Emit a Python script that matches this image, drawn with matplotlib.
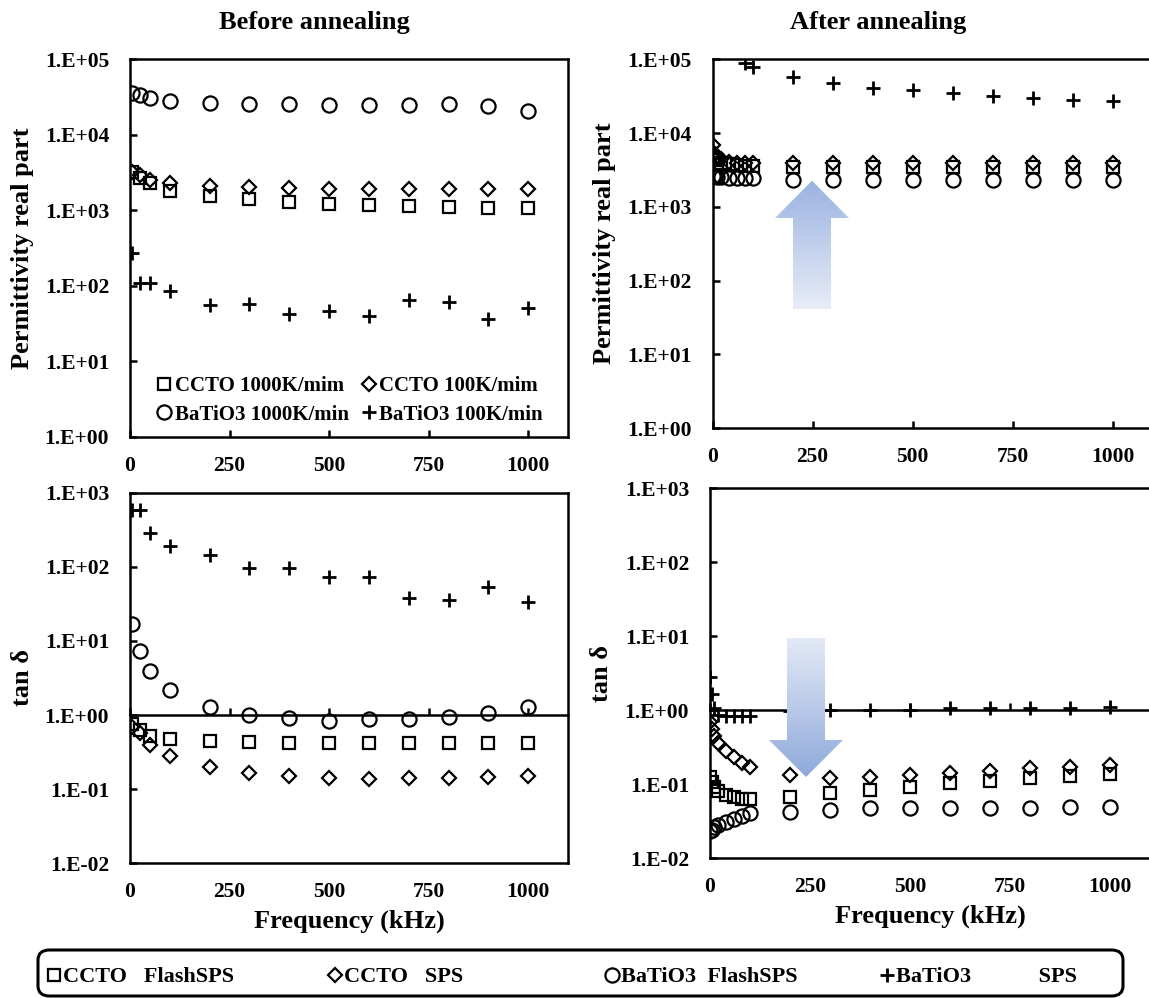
import numpy as np
import matplotlib
matplotlib.use("Agg")
import matplotlib.pyplot as plt
from matplotlib.lines import Line2D
from matplotlib.patches import Polygon, FancyBboxPatch
from matplotlib.colors import LinearSegmentedColormap
from matplotlib.ticker import FixedLocator, FuncFormatter, NullLocator

plt.rcParams["font.family"] = ["Liberation Serif", "DejaVu Serif"]
plt.rcParams["font.weight"] = "bold"

# ---- data ----
freq_before = [5, 25, 50, 100, 200, 300, 400, 500, 600, 700, 800, 900, 1000]
freq_after = [1, 5, 10, 20, 40, 60, 80, 100, 200, 300, 400, 500, 600, 700, 800, 900, 1000]

eps_before_ccto_flash = [3200, 2700, 2300, 1800, 1550, 1420, 1280, 1220, 1190, 1160, 1120, 1090, 1060]
eps_before_ccto_sps = [3250, 2930, 2520, 2280, 2080, 2010, 2000, 1930, 1920, 1920, 1920, 1920, 1900]
eps_before_bto_flash = [36100, 33600, 30400, 28300, 26700, 25600, 25300, 24600, 24600, 24600, 25300, 24300, 20900]
eps_before_bto_sps = [270, 110, 110, 85, 56, 57, 43, 47, 40.5, 65, 61, 36.5, 51]

tan_before_ccto_flash = [0.76, 0.62, 0.52, 0.47, 0.44, 0.43, 0.42, 0.42, 0.42, 0.42, 0.42, 0.42, 0.42]
tan_before_ccto_sps = [0.70, 0.57, 0.40, 0.28, 0.197, 0.164, 0.151, 0.14, 0.136, 0.14, 0.14, 0.148, 0.151]
tan_before_bto_flash = [16.9, 7.4, 3.98, 2.18, 1.30, 1.0, 0.90, 0.84, 0.875, 0.89, 0.95, 1.08, 1.30]
tan_before_bto_sps = [583, 583, 289, 191, 144, 95.4, 95, 72, 72, 38, 35.7, 52.9, 33.9]

eps_after_ccto_flash = [4800, 4500, 4300, 4000, 3800, 3700, 3600, 3600,
                        3500, 3500, 3500, 3500, 3500, 3500, 3500, 3500, 3500]
eps_after_ccto_sps = [6900, 5300, 4800, 4400, 4100, 4000, 3900, 3900,
                      3900, 3900, 3900, 3900, 3900, 3900, 3900, 3900, 3900]
eps_after_bto_flash = [2600, 2600, 2550, 2550, 2500, 2500, 2450, 2450,
                       2320, 2320, 2320, 2320, 2320, 2320, 2320, 2320, 2320]
eps_after_bto_sps = [400000, 300000, 250000, 200000, 160000, 130000, 89000, 79000,
                     57000, 47500, 41500, 38000, 34700, 32000, 29700, 28200, 27300]

tan_after_ccto_flash = [0.125, 0.105, 0.09, 0.08, 0.072, 0.066, 0.063, 0.062,
                        0.067, 0.075, 0.083, 0.092, 0.102, 0.111, 0.119, 0.129, 0.136]
tan_after_ccto_sps = [0.69, 0.56, 0.45, 0.36, 0.28, 0.23, 0.19, 0.17,
                      0.132, 0.12, 0.126, 0.132, 0.142, 0.15, 0.163, 0.171, 0.18]
tan_after_bto_flash = [0.023, 0.024, 0.026, 0.028, 0.031, 0.034, 0.037, 0.041,
                       0.042, 0.045, 0.047, 0.047, 0.048, 0.048, 0.048, 0.049, 0.049]
tan_after_bto_sps = [2.8, 1.65, 1.05, 0.85, 0.82, 0.82, 0.82, 0.82,
                     0.97, 1.0, 1.0, 1.0, 1.05, 1.05, 1.05, 1.07, 1.1]

x_ticks = [0, 250, 500, 750, 1000]
inner_labels = ["CCTO 1000K/mim", "CCTO 100K/mim", "BaTiO3 1000K/min", "BaTiO3 100K/min"]
outer_labels = ["CCTO   FlashSPS", "CCTO   SPS", "BaTiO3  FlashSPS", "BaTiO3            SPS"]

# ---- styling ----
W, H = 1149, 998
LW = 1.8
BASE = dict(ls="none", color="k", mfc="none", mec="k", mew=1.6)
STYLES = [
    {**BASE, "marker": "s", "ms": 8.8},
    {**BASE, "marker": "D", "ms": 7.6},
    {**BASE, "marker": "o", "ms": 10.2},
    {**BASE, "marker": "+", "ms": 10, "mew": 2.0},
]

fig = plt.figure(figsize=(W / 100, H / 100), dpi=100)


def px_axes(x0, y0, x1, y1):
    return fig.add_axes([x0 / W, 1 - y1 / H, (x1 - x0) / W, (y1 - y0) / H])


def setup(ax, lo, hi, ylabel, axis_at_one):
    ax.set_yscale("log")
    ax.set_ylim(10.0 ** lo, 10.0 ** hi)
    ax.set_xlim(0, 1100)
    ax.xaxis.set_major_locator(FixedLocator(x_ticks))
    ax.yaxis.set_major_locator(FixedLocator(10.0 ** np.arange(lo, hi + 1)))
    ax.yaxis.set_minor_locator(NullLocator())
    ax.yaxis.set_major_formatter(
        FuncFormatter(lambda v, p: f"1.E{int(round(np.log10(v))):+03d}"))
    for s in ax.spines.values():
        s.set_linewidth(LW)
    ax.tick_params(axis="y", direction="in", length=5, width=LW,
                   labelsize=15.5, pad=15)
    ax.tick_params(axis="x", direction="in", length=5, width=LW,
                   labelsize=15.5, pad=13.5)
    ax.set_ylabel(ylabel, fontsize=19, fontweight="bold")
    ax.yaxis.set_label_coords(-0.22, 0.5)
    if axis_at_one:
        # Excel-style horizontal axis crossing at y = 1, labels kept low
        ax.tick_params(axis="x", bottom=False)
        frac = (0 - lo) / (hi - lo)
        sec = ax.secondary_xaxis(frac)
        sec.set_xticks(x_ticks)
        sec.tick_params(direction="in", length=5, width=LW,
                        labelbottom=False, labeltop=False)
        for s in sec.spines.values():
            s.set_linewidth(LW)
        ax.set_xlabel("Frequency (kHz)", fontsize=19, fontweight="bold", va="top")
        ax.xaxis.set_label_coords(0.5, -0.126)


def draw(ax, freq, series):
    for vals, st in zip(series, STYLES):
        ax.plot(freq, vals, **st)


ax_tl = px_axes(130, 59.3, 568, 437)
ax_tr = px_axes(712.5, 59.5, 1152.5, 428)
ax_bl = px_axes(130, 492.7, 568, 863.3)
ax_br = px_axes(710, 488, 1150, 858)

draw(ax_tl, freq_before, [eps_before_ccto_flash, eps_before_ccto_sps,
                          eps_before_bto_flash, eps_before_bto_sps])
draw(ax_tr, freq_after, [eps_after_ccto_flash, eps_after_ccto_sps,
                         eps_after_bto_flash, eps_after_bto_sps])
draw(ax_bl, freq_before, [tan_before_ccto_flash, tan_before_ccto_sps,
                          tan_before_bto_flash, tan_before_bto_sps])
draw(ax_br, freq_after, [tan_after_ccto_flash, tan_after_ccto_sps,
                         tan_after_bto_flash, tan_after_bto_sps])

setup(ax_tl, 0, 5, "Permittivity real part", False)
setup(ax_tr, 0, 5, "Permittivity real part", False)
setup(ax_bl, -2, 3, "tan δ", True)
setup(ax_br, -2, 3, "tan δ", True)

# inner legend of the first panel (column-wise order)
handles = [Line2D([], [], **st) for st in STYLES]
order = [0, 2, 1, 3]
ax_tl.legend([handles[i] for i in order], [inner_labels[i] for i in order],
             ncol=2, loc="upper left", bbox_to_anchor=(0.062, 0.162),
             frameon=False, fontsize=15, handlelength=0.7, handletextpad=0.15,
             columnspacing=0.6, labelspacing=0.42, borderpad=0, borderaxespad=0)

# titles
fig.text(314 / W, 1 - 22 / H, "Before annealing", ha="center", va="center",
         fontsize=19, fontweight="bold")
fig.text(878 / W, 1 - 22 / H, "After annealing", ha="center", va="center",
         fontsize=19, fontweight="bold")


# gradient arrows
def gradient_arrow(x0, y0, x1, y1, verts, c_low, c_high):
    aax = px_axes(x0, y0, x1, y1)
    aax.set_axis_off()
    cmap = LinearSegmentedColormap.from_list("arr", [c_low, c_high])
    grad = np.linspace(0, 1, 256).reshape(-1, 1)
    im = aax.imshow(grad, cmap=cmap, origin="lower", extent=(0, 1, 0, 1),
                    aspect="auto", interpolation="bilinear")
    poly = Polygon(verts, closed=True, facecolor="none", edgecolor="none")
    aax.add_patch(poly)
    im.set_clip_path(poly)
    aax.set_xlim(0, 1)
    aax.set_ylim(0, 1)


up = [(0.243, 0), (0.757, 0), (0.757, 0.709), (1, 0.709), (0.5, 1),
      (0, 0.709), (0.243, 0.709)]
gradient_arrow(775, 180.7, 849, 309, up, "#E8EDF8", "#9AB2E0")
down = [(0.243, 1), (0.757, 1), (0.757, 0.266), (1, 0.266), (0.5, 0),
        (0, 0.266), (0.243, 0.266)]
gradient_arrow(769, 637.7, 843, 777, down, "#8FA9DB", "#E4EAF6")

# bottom legend box
box = FancyBboxPatch((38 / W, 1 - 996 / H), (1123 - 38) / W, 46 / H,
                     boxstyle="round,pad=0,rounding_size=0.01",
                     transform=fig.transFigure, facecolor="white",
                     edgecolor="black", linewidth=2.2)
fig.patches.append(box)
marker_x = [47, 328, 605, 880]
for hx, h, lab in zip(marker_x, handles, outer_labels):
    fig.legend([h], [lab], loc="center left", bbox_to_anchor=(hx / W, 1 - 977 / H),
               frameon=False, fontsize=16, handlelength=0.6, handletextpad=0.1,
               borderpad=0, borderaxespad=0)

fig.savefig("out.png", dpi=100)
